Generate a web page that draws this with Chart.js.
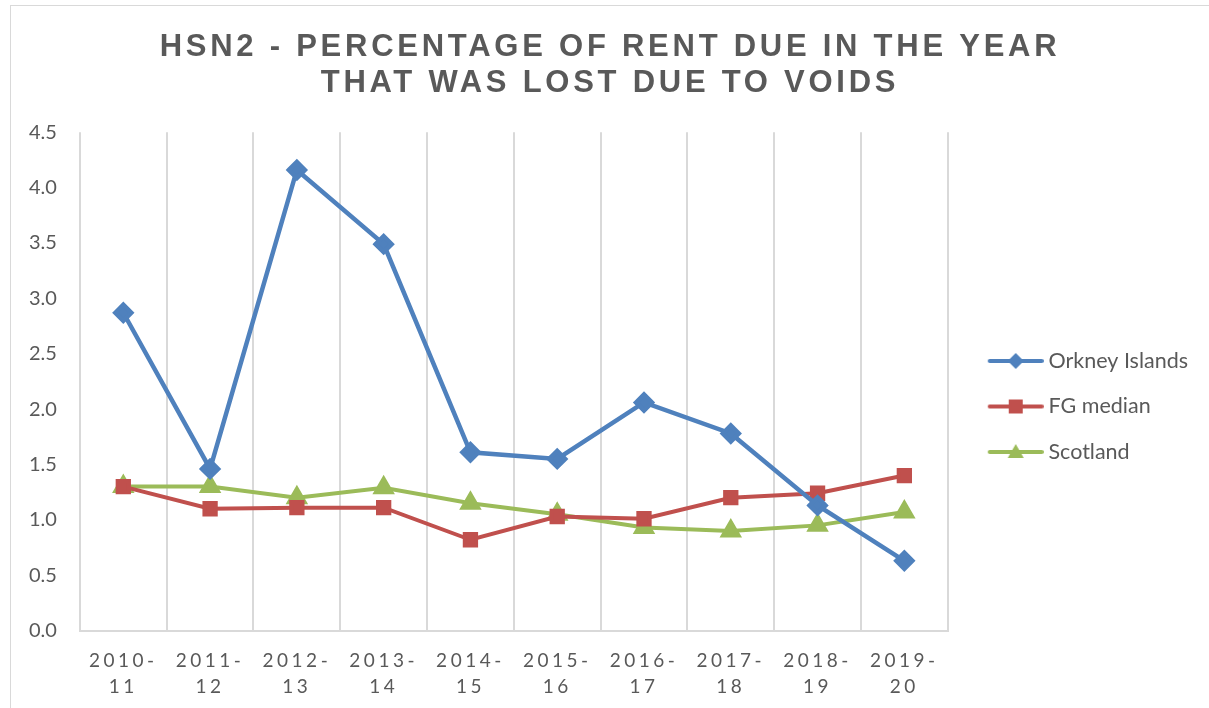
<!DOCTYPE html>
<html>
<head>
<meta charset="utf-8">
<script src="https://cdn.jsdelivr.net/npm/chart.js@4/dist/chart.umd.min.js"></script>
<style>
  html, body { margin: 0; padding: 0; background: #fff; }
  #wrap { width: 1209px; height: 708px; position: relative; }
</style>
</head>
<body>
<div id="wrap"><canvas id="voidsChart" width="1209" height="708"></canvas></div>
<script>
const years = [['2010-', '11'], ['2011-', '12'], ['2012-', '13'], ['2013-', '14'], ['2014-', '15'],
               ['2015-', '16'], ['2016-', '17'], ['2017-', '18'], ['2018-', '19'], ['2019-', '20']];
const orkney   = [2.87, 1.46, 4.16, 3.49, 1.61, 1.55, 2.06, 1.78, 1.13, 0.63];
const fgMedian = [1.30, 1.10, 1.11, 1.11, 0.82, 1.03, 1.01, 1.20, 1.24, 1.40];
const scotland = [1.30, 1.30, 1.20, 1.29, 1.15, 1.05, 0.93, 0.90, 0.95, 1.07];

const BLUE = '#4F81BD';
const RED = '#C0504D';
const GREEN = '#9BBB59';
const GREY_TEXT = '#595959';
const GRID = '#D9D9D9';

// line + marker swatch for the legend; wider than the legend box so the
// line runs up close to the label text
function legendIcon(color, style) {
  const c = document.createElement('canvas');
  c.width = 78; c.height = 22;
  const g = c.getContext('2d');
  const cx = 50, cy = 11;
  g.strokeStyle = color;
  g.fillStyle = color;
  g.lineWidth = 4;
  g.lineCap = 'round';
  g.beginPath(); g.moveTo(24, cy); g.lineTo(76, cy); g.stroke();
  g.beginPath();
  if (style === 'rectRot') {
    g.moveTo(cx, cy - 8); g.lineTo(cx + 8, cy); g.lineTo(cx, cy + 8); g.lineTo(cx - 8, cy);
  } else if (style === 'rect') {
    g.rect(cx - 7, cy - 7, 14, 14);
  } else {
    g.moveTo(cx, cy - 8); g.lineTo(cx + 8, cy + 6); g.lineTo(cx - 8, cy + 6);
  }
  g.closePath(); g.fill();
  return c;
}

// letter spacing for the title and the year labels
const spacedText = {
  id: 'spacedText',
  beforeDraw(chart) {
    const ctx = chart.ctx;
    const wrap = (obj, key, spacing, dx) => {
      if (!obj || obj['_spaced_' + key]) return;
      const orig = obj[key];
      obj[key] = function () {
        ctx.save();
        ctx.translate(dx, 0);
        ctx.letterSpacing = spacing;
        orig.apply(this, arguments);
        ctx.restore();
      };
      obj['_spaced_' + key] = true;
    };
    wrap(chart.titleBlock, 'draw', '3.75px', 8);
    wrap(chart.scales.x, 'drawLabels', '3.5px', 0);
  }
};

// thin outer frame around the chart
const frame = {
  id: 'frame',
  beforeDraw(chart) {
    const ctx = chart.ctx;
    ctx.save();
    ctx.strokeStyle = GRID;
    ctx.lineWidth = 1;
    ctx.strokeRect(10.5, 5.5, 1400, 900);
    ctx.restore();
  }
};

const ctx = document.getElementById('voidsChart').getContext('2d');

new Chart(ctx, {
  type: 'line',
  data: {
    labels: years,
    datasets: [
      {
        label: 'Orkney Islands',
        data: orkney,
        borderColor: BLUE,
        backgroundColor: BLUE,
        borderWidth: 4.5,
        pointStyle: 'rectRot',
        pointRadius: 8,
        pointHoverRadius: 8,
        legendIcon: legendIcon(BLUE, 'rectRot'),
      },
      {
        label: 'FG median',
        data: fgMedian,
        borderColor: RED,
        backgroundColor: RED,
        borderWidth: 4,
        pointStyle: 'rect',
        pointRadius: 8,
        pointHoverRadius: 8,
        legendIcon: legendIcon(RED, 'rect'),
      },
      {
        label: 'Scotland',
        data: scotland,
        borderColor: GREEN,
        backgroundColor: GREEN,
        borderWidth: 4,
        pointStyle: 'triangle',
        pointRadius: 9,
        pointHoverRadius: 9,
        legendIcon: legendIcon(GREEN, 'triangle'),
      },
    ],
  },
  options: {
    responsive: false,
    animation: false,
    layout: {
      padding: { left: 6, right: 11, top: 0, bottom: -9 },
    },
    elements: {
      line: { tension: 0 },
      point: { borderWidth: 0 },
    },
    plugins: {
      title: {
        display: true,
        text: ['HSN2 - PERCENTAGE OF RENT DUE IN THE YEAR', 'THAT WAS LOST DUE TO VOIDS'],
        color: GREY_TEXT,
        font: { family: 'Liberation Sans', size: 31, weight: 'bold', lineHeight: 1.15 },
        padding: { top: 30, bottom: 31 },
      },
      legend: {
        position: 'right',
        title: {
          // empty title block, only used to push the items down
          display: true,
          text: '',
          font: { size: 16, lineHeight: 1 },
          padding: { top: 0, bottom: 80 },
        },
        labels: {
          usePointStyle: true,
          pointStyleWidth: 66,
          color: GREY_TEXT,
          padding: 24,
          font: { family: 'Lato', size: 21.5 },
          generateLabels(chart) {
            return chart.data.datasets.map((ds, i) => ({
              text: ds.label,
              fillStyle: ds.borderColor,
              strokeStyle: ds.borderColor,
              lineWidth: 0,
              pointStyle: ds.legendIcon,
              fontColor: GREY_TEXT,
              hidden: false,
              datasetIndex: i,
            }));
          },
        },
      },
      tooltip: { enabled: false },
    },
    scales: {
      x: {
        offset: true,
        grid: { display: true, offset: true, color: GRID, lineWidth: 2, drawTicks: false },
        border: { display: true, color: GRID, width: 2 },
        ticks: {
          color: GREY_TEXT,
          padding: 17,
          maxRotation: 0,
          font: { family: 'Lato', size: 19, lineHeight: 1.38 },
        },
      },
      y: {
        min: 0,
        max: 4.5,
        grid: { display: false, drawTicks: false },
        border: { display: false },
        ticks: {
          stepSize: 0.5,
          color: GREY_TEXT,
          padding: 23,
          font: { family: 'Lato', size: 20 },
          callback: (v) => Number(v).toFixed(1),
        },
      },
    },
  },
  plugins: [frame, spacedText],
});
</script>
</body>
</html>
